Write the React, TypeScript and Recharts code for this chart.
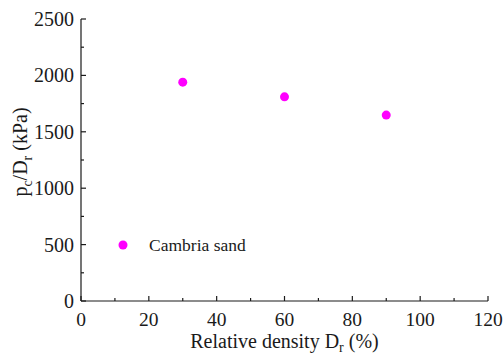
import { ScatterChart, Scatter, XAxis, YAxis } from 'recharts'

const densities = [30, 60, 90]
const ratios = [1940, 1810, 1648]
const seriesName = 'Cambria sand'
const xTicks = [0, 10, 20, 30, 40, 50, 60, 70, 80, 90, 100, 110, 120]
const yTicks = [0, 250, 500, 750, 1000, 1250, 1500, 1750, 2000, 2250, 2500]

const font = 'Liberation Serif, Times New Roman, serif'
const ink = '#1a1a1a'
const pink = '#ff00ff'

const data = densities.map((d, i) => ({ dr: d, ratio: ratios[i] }))

const txt = { fontFamily: font, fill: ink }

const XTick = (props: any) => {
  const { x, y, payload } = props
  const major = payload.value % 20 === 0
  return (
    <g>
      <line x1={x} y1={y} x2={x} y2={y - (major ? 5 : 3)} stroke={ink} strokeWidth={1.2} />
      {major && (
        <text x={x} y={y + 25} textAnchor='middle' fontSize={19.5} style={txt}>
          {payload.value}
        </text>
      )}
    </g>
  )
}

const YTick = (props: any) => {
  const { x, y, payload } = props
  const major = payload.value % 500 === 0
  return (
    <g>
      <line x1={x} y1={y} x2={x + (major ? 5 : 3)} y2={y} stroke={ink} strokeWidth={1.2} />
      {major && (
        <text x={x - 7} y={y + 7} textAnchor='end' fontSize={20} style={txt}>
          {payload.value}
        </text>
      )}
    </g>
  )
}

const YLabel = () => (
  <text transform='translate(27,152) rotate(-90)' textAnchor='middle' fontSize={20} style={txt}>
    p<tspan dy={5} fontSize={14}>c</tspan>
    <tspan dy={-5}>/D</tspan>
    <tspan dy={5} fontSize={14}>r</tspan>
    <tspan dy={-5}> (kPa)</tspan>
  </text>
)

const XLabel = () => (
  <text x={284.5} y={348} textAnchor='middle' fontSize={20} style={txt}>
    Relative density D<tspan dy={4} fontSize={14}>r</tspan>
    <tspan dy={-4}> (%)</tspan>
  </text>
)

// legend drawn inside the plot, like the original figure
const LegendMark = () => (
  <g>
    <circle cx={123} cy={245} r={4.5} fill={pink} />
    <text x={149} y={251} fontSize={17.5} style={txt}>
      {seriesName}
    </text>
  </g>
)

export default function App() {
  return (
    <div style={{ position: 'absolute', left: 0, top: 0, background: '#fff' }}>
      <ScatterChart width={504} height={354} margin={{ top: 19, right: 16, bottom: 0, left: 0 }}>
        <XAxis
          xAxisId='top'
          orientation='top'
          type='number'
          dataKey='dr'
          domain={[0, 120]}
          height={0}
          tick={false}
          tickLine={false}
          axisLine={{ stroke: ink, strokeWidth: 1.2 }}
        />
        <YAxis
          yAxisId='right'
          orientation='right'
          type='number'
          dataKey='ratio'
          domain={[0, 2500]}
          width={0}
          tick={false}
          tickLine={false}
          axisLine={{ stroke: ink, strokeWidth: 1.2 }}
        />
        <XAxis
          type='number'
          dataKey='dr'
          domain={[0, 120]}
          ticks={xTicks}
          interval={0}
          height={53}
          tickSize={0}
          tickMargin={0}
          tickLine={false}
          tick={<XTick />}
          axisLine={{ stroke: ink, strokeWidth: 1.2 }}
        />
        <YAxis
          type='number'
          dataKey='ratio'
          domain={[0, 2500]}
          ticks={yTicks}
          interval={0}
          width={81}
          tickSize={0}
          tickMargin={0}
          tickLine={false}
          tick={<YTick />}
          axisLine={{ stroke: ink, strokeWidth: 1.2 }}
        />
        <Scatter
          name={seriesName}
          data={data}
          fill={pink}
          isAnimationActive={false}
          shape={(p: any) => <circle cx={p.cx} cy={p.cy} r={4.5} fill={pink} />}
        />
        <YLabel />
        <XLabel />
        <LegendMark />
      </ScatterChart>
    </div>
  )
}
